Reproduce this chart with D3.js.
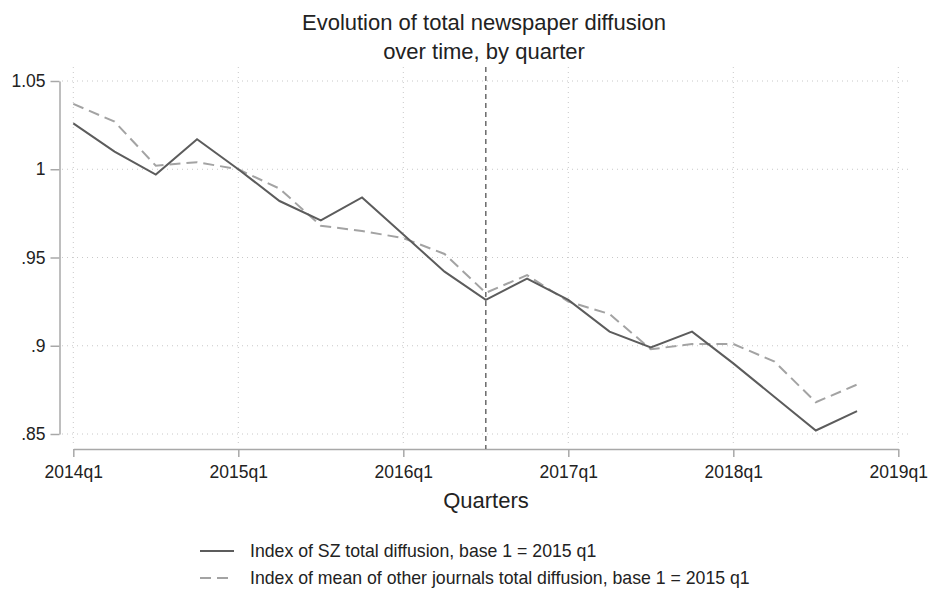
<!DOCTYPE html>
<html>
<head>
<meta charset="utf-8">
<script src="https://cdn.jsdelivr.net/npm/d3@7"></script>
<style>
  body { margin: 0; background: #fff; }
  text { font-family: "Liberation Sans", Arial, sans-serif; fill: #222; }
</style>
</head>
<body>
<div id="chart"></div>
<script>
// quarters from 2014q1 to 2018q4 (index 0 = 2014q1)
var quarters = ["2014q1","2014q2","2014q3","2014q4","2015q1","2015q2","2015q3","2015q4",
                "2016q1","2016q2","2016q3","2016q4","2017q1","2017q2","2017q3","2017q4",
                "2018q1","2018q2","2018q3","2018q4"];
var szIndex = [1.026, 1.010, 0.997, 1.017, 1.000, 0.982, 0.971, 0.984,
               0.963, 0.942, 0.926, 0.938, 0.926, 0.908, 0.899, 0.908,
               0.890, 0.871, 0.852, 0.863];
var otherIndex = [1.037, 1.027, 1.002, 1.004, 1.000, 0.989, 0.968, 0.965,
                  0.961, 0.952, 0.930, 0.940, 0.925, 0.918, 0.898, 0.901,
                  0.901, 0.891, 0.868, 0.878];
var yTicks = [0.85, 0.9, 0.95, 1, 1.05];
var xTickIdx = [0, 4, 8, 12, 16, 20];
var xTickLabels = ["2014q1","2015q1","2016q1","2017q1","2018q1","2019q1"];
var eventIdx = 10; // 2016q3

var w = 932, h = 592;

var svg = d3.select("#chart")
    .append("svg")
    .attr("width", w)
    .attr("height", h);

var x = d3.scaleLinear().domain([0, 20]).range([73.3, 898.3]);
var y = d3.scaleLinear().domain([0.85, 1.05]).range([434, 81]);

// gridlines (dotted)
svg.append("g").selectAll("line")
    .data(yTicks)
    .enter()
    .append("line")
    .attr("x1", 62).attr("x2", 910)
    .attr("y1", function (d) { return y(d); })
    .attr("y2", function (d) { return y(d); })
    .style("stroke", "#c8c8c8")
    .style("stroke-width", 1)
    .style("stroke-dasharray", "1,4");

svg.append("g").selectAll("line")
    .data(xTickIdx)
    .enter()
    .append("line")
    .attr("x1", function (d) { return x(d); })
    .attr("x2", function (d) { return x(d); })
    .attr("y1", 67).attr("y2", 446)
    .style("stroke", "#c8c8c8")
    .style("stroke-width", 1)
    .style("stroke-dasharray", "1,4");

// y axis
var yAxis = d3.axisLeft(y)
    .tickValues(yTicks)
    .tickSize(9)
    .tickPadding(5)
    .tickSizeOuter(0)
    .tickFormat(function (d) {
        if (d == 1) return "1";
        var s = d3.format(".2f")(d).replace(/0$/, "");
        return d < 1 ? s.replace(/^0/, "") : s;
    });

var gy = svg.append("g")
    .attr("transform", "translate(59.5,0)")
    .call(yAxis);

// x axis
var xAxis = d3.axisBottom(x)
    .tickValues(xTickIdx)
    .tickSize(8)
    .tickPadding(9)
    .tickSizeOuter(0)
    .tickFormat(function (d, i) { return xTickLabels[i]; });

var gx = svg.append("g")
    .attr("transform", "translate(0,449)")
    .call(xAxis);

[gy, gx].forEach(function (g) {
    g.select(".domain").style("stroke", "#a8a8a8").style("stroke-width", 1.5);
    g.selectAll(".tick line").style("stroke", "#a8a8a8").style("stroke-width", 1.5);
    g.selectAll(".tick text")
        .style("font-family", "'Liberation Sans', Arial, sans-serif")
        .style("font-size", "17.5px")
        .style("fill", "#222");
});

// vertical event line
svg.append("line")
    .attr("x1", x(eventIdx)).attr("x2", x(eventIdx))
    .attr("y1", 67).attr("y2", 449)
    .style("stroke", "#6a6a6a")
    .style("stroke-width", 1.5)
    .style("stroke-dasharray", "5,4");

var line = d3.line()
    .x(function (d, i) { return x(i); })
    .y(function (d) { return y(d); });

svg.append("path")
    .datum(otherIndex)
    .attr("d", line)
    .style("fill", "none")
    .style("stroke", "#a3a3a3")
    .style("stroke-width", 2)
    .style("stroke-dasharray", "11,6");

svg.append("path")
    .datum(szIndex)
    .attr("d", line)
    .style("fill", "none")
    .style("stroke", "#5c5c5c")
    .style("stroke-width", 2);

// titles
svg.append("text")
    .attr("x", 484).attr("y", 30)
    .attr("text-anchor", "middle")
    .style("font-size", "22px")
    .text("Evolution of total newspaper diffusion");
svg.append("text")
    .attr("x", 484).attr("y", 59)
    .attr("text-anchor", "middle")
    .style("font-size", "22px")
    .text("over time, by quarter");

svg.append("text")
    .attr("x", 486).attr("y", 508)
    .attr("text-anchor", "middle")
    .style("font-size", "22px")
    .text("Quarters");

// legend
var legendItems = [
    { label: "Index of SZ total diffusion, base 1 = 2015 q1", color: "#5c5c5c", dash: null },
    { label: "Index of mean of other journals total diffusion, base 1 = 2015 q1", color: "#a3a3a3", dash: "11,6" }
];

var legend = svg.append("g").selectAll("g")
    .data(legendItems)
    .enter()
    .append("g")
    .attr("transform", function (d, i) { return "translate(200," + (551 + i * 27) + ")"; });

legend.append("line")
    .attr("x1", 0).attr("x2", 34)
    .attr("y1", 0).attr("y2", 0)
    .style("stroke", function (d) { return d.color; })
    .style("stroke-width", 2)
    .style("stroke-dasharray", function (d) { return d.dash; });

legend.append("text")
    .attr("x", 50).attr("y", 6)
    .style("font-size", "17.7px")
    .text(function (d) { return d.label; });
</script>
</body>
</html>
